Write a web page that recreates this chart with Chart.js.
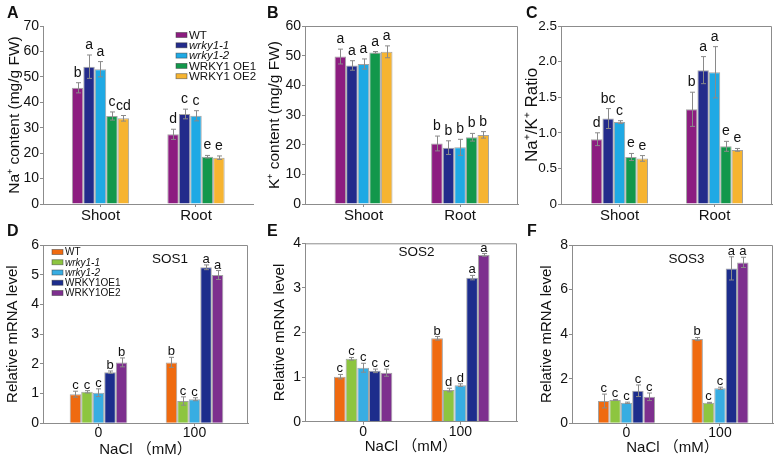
<!DOCTYPE html>
<html>
<head>
<meta charset="utf-8">
<script src="https://cdn.jsdelivr.net/npm/chart.js@4/dist/chart.umd.min.js"></script>
<style>
body { margin: 0; background: #fff; width: 777px; height: 464px; overflow: hidden; position: relative; font-family: 'Liberation Sans', Arial, sans-serif; }
.panel { position: absolute; }
.tag { position: absolute; font-weight: bold; font-size: 16px; line-height: 16px; color: #111; }
</style>
</head>
<body>
<div class="panel" style="left:0;top:0;width:260px;height:230px"><canvas id="chartA"></canvas></div>
<div class="panel" style="left:260px;top:0;width:260px;height:230px"><canvas id="chartB"></canvas></div>
<div class="panel" style="left:520px;top:0;width:257px;height:230px"><canvas id="chartC"></canvas></div>
<div class="panel" style="left:0;top:230px;width:260px;height:234px"><canvas id="chartD"></canvas></div>
<div class="panel" style="left:260px;top:230px;width:260px;height:234px"><canvas id="chartE"></canvas></div>
<div class="panel" style="left:520px;top:230px;width:257px;height:234px"><canvas id="chartF"></canvas></div>
<div class="tag" style="left:7px;top:5px">A</div>
<div class="tag" style="left:267px;top:5px">B</div>
<div class="tag" style="left:526px;top:5px">C</div>
<div class="tag" style="left:7px;top:223px">D</div>
<div class="tag" style="left:267px;top:223px">E</div>
<div class="tag" style="left:527px;top:223px">F</div>
<script>
// categories
const tissues = ['Shoot', 'Root'];
const saltLevels = ['0', '100'];
const linesIon = ['WT', 'wrky1-1', 'wrky1-2', 'WRKY1 OE1', 'WRKY1 OE2'];
const linesGene = ['WT', 'wrky1-1', 'wrky1-2', 'WRKY1OE1', 'WRKY1OE2'];
const colorsIon = ['#8c1d80', '#232b8b', '#1fa9e4', '#12974b', '#f6b431'];
const colorsGene = ['#ef6a10', '#8dc540', '#38ade2', '#1d2d8c', '#7d2f8e'];

// each row = one genotype: [Shoot, Root]
const naVal = [[45.7, 27.4], [54.0, 35.4], [53.0, 34.7], [34.6, 18.6], [33.7, 18.2]];
const naErr = [[2.0, 2.0], [4.6, 1.9], [3.0, 2.0], [1.6, 0.5], [1.1, 0.7]];
const naLet = [['b', 'd'], ['a', 'c'], ['a', 'c'], ['c', 'e'], ['cd', 'e']];

const kVal = [[49.7, 20.4], [46.7, 19.0], [47.2, 19.1], [51.1, 22.5], [51.3, 23.3]];
const kErr = [[2.5, 2.5], [1.6, 2.3], [1.7, 2.7], [0.3, 1.3], [2.0, 1.1]];
const kLet = [['a', 'b'], ['a', 'b'], ['a', 'b'], ['a', 'b'], ['a', 'b']];

const ratioVal = [[0.91, 1.33], [1.20, 1.88], [1.15, 1.85], [0.66, 0.81], [0.64, 0.76]];
const ratioErr = [[0.09, 0.24], [0.14, 0.19], [0.02, 0.36], [0.05, 0.07], [0.04, 0.02]];
const ratioLet = [['d', 'b'], ['bc', 'a'], ['c', 'a'], ['e', 'e'], ['e', 'e']];

// each row = one genotype: [0 mM, 100 mM]
const sos1Val = [[0.98, 2.05], [1.06, 0.75], [1.03, 0.81], [1.72, 5.25], [2.05, 4.99]];
const sos1Err = [[0.1, 0.17], [0.04, 0.14], [0.13, 0.05], [0.04, 0.08], [0.15, 0.15]];
const sos1Let = [['c', 'b'], ['c', 'c'], ['c', 'c'], ['b', 'a'], ['b', 'a']];

const sos2Val = [[1.01, 1.87], [1.41, 0.71], [1.21, 0.82], [1.14, 3.23], [1.10, 3.74]];
const sos2Err = [[0.05, 0.04], [0.03, 0.04], [0.1, 0.03], [0.04, 0.05], [0.08, 0.03]];
const sos2Let = [['c', 'b'], ['c', 'd'], ['c', 'd'], ['c', 'a'], ['c', 'a']];

const sos3Val = [[1.0, 3.78], [1.05, 0.92], [0.92, 1.57], [1.46, 6.95], [1.19, 7.22]];
const sos3Err = [[0.31, 0.07], [0.02, 0.02], [0.03, 0.05], [0.26, 0.52], [0.17, 0.23]];
const sos3Let = [['c', 'b'], ['c', 'c'], ['c', 'c'], ['c', 'a'], ['c', 'a']];

const axisGray = '#8c8c8c';
const inkColor = '#111';
Chart.defaults.font.family = "'Liberation Sans', Arial, 'Noto Sans CJK SC', sans-serif";
Chart.defaults.color = inkColor;

// error bars, letters, legend, gene name and box frame
const panelExtras = {
    id: 'panelExtras',
    afterDatasetsDraw(chart, args, opts) {
        const ctx = chart.ctx;
        const a = chart.chartArea;
        const y = chart.scales.y;
        ctx.save();
        if (opts.box) {
            ctx.strokeStyle = axisGray;
            ctx.lineWidth = 1;
            ctx.beginPath();
            ctx.moveTo(a.left, a.top + 0.5);
            ctx.lineTo(a.right - 0.5, a.top + 0.5);
            ctx.lineTo(a.right - 0.5, a.bottom);
            ctx.stroke();
        }
        chart.data.datasets.forEach((ds, i) => {
            const meta = chart.getDatasetMeta(i);
            meta.data.forEach((bar, j) => {
                const v = ds.data[j].y;
                const e = ds.errors[j];
                const top = y.getPixelForValue(v + e);
                const bot = y.getPixelForValue(v - e);
                const x = Math.round(bar.x) + 0.5;
                ctx.strokeStyle = '#8a8a8a';
                ctx.lineWidth = 1;
                ctx.beginPath();
                ctx.moveTo(x, top);
                ctx.lineTo(x, bot);
                ctx.moveTo(x - 2.5, top);
                ctx.lineTo(x + 2.5, top);
                ctx.moveTo(x - 2.5, bot);
                ctx.lineTo(x + 2.5, bot);
                ctx.stroke();
                ctx.fillStyle = inkColor;
                ctx.font = opts.letterFont;
                ctx.textAlign = 'center';
                ctx.textBaseline = 'alphabetic';
                ctx.fillText(ds.letters[j], bar.x, top - opts.letterGap);
            });
        });
        if (opts.legend) {
            const L = opts.legend;
            chart.data.datasets.forEach((ds, i) => {
                const cy = L.y + i * L.row;
                ctx.fillStyle = ds.backgroundColor;
                ctx.fillRect(L.x, cy - 2.5, 11, 5);
                ctx.strokeStyle = 'rgba(60,60,60,0.6)';
                ctx.lineWidth = 0.8;
                ctx.strokeRect(L.x, cy - 2.5, 11, 5);
                ctx.fillStyle = inkColor;
                const italic = ds.label.startsWith('wrky') ? 'italic ' : '';
                ctx.font = italic + L.size + "px 'Liberation Sans', Arial, sans-serif";
                ctx.textAlign = 'left';
                ctx.textBaseline = 'middle';
                ctx.fillText(ds.label, L.x + 13, cy + 0.5);
            });
        }
        if (opts.gene) {
            ctx.fillStyle = inkColor;
            ctx.font = "13.5px 'Liberation Sans', Arial, sans-serif";
            ctx.textAlign = 'center';
            ctx.textBaseline = 'middle';
            ctx.fillText(opts.gene.text, opts.gene.x, opts.gene.y);
        }
        ctx.restore();
    }
};

function makeChart(id, cfg) {
    const ctx = document.getElementById(id).getContext('2d');
    const myChart = new Chart(ctx, {
        type: 'bar',
        data: {
            datasets: cfg.names.map((name, i) => ({
                label: name,
                data: cfg.values[i].map((v, j) => ({x: j, y: v})),
                errors: cfg.errors[i],
                letters: cfg.letters[i],
                backgroundColor: cfg.colors[i],
                borderColor: 'rgba(50,50,50,0.45)',
                borderWidth: 1,
                categoryPercentage: cfg.groupWidth,
                barPercentage: 1
            }))
        },
        options: {
            responsive: true,
            maintainAspectRatio: false,
            animation: false,
            layout: {
                padding: cfg.pad
            },
            plugins: {
                legend: {display: false},
                tooltip: {enabled: false},
                panelExtras: cfg.extras
            },
            scales: {
                x: {
                    type: 'linear',
                    min: cfg.xmin,
                    max: cfg.xmax,
                    offset: false,
                    afterBuildTicks: s => { s.ticks = [{value: 0}, {value: 1}]; },
                    afterFit: s => { s.height = cfg.xh; },
                    grid: {drawOnChartArea: false, tickLength: 3, color: axisGray, offset: false},
                    border: {color: axisGray},
                    ticks: {
                        callback: v => cfg.cats[v],
                        font: {size: cfg.xTickSize, lineHeight: 1},
                        padding: cfg.xTickPad,
                        maxRotation: 0
                    },
                    title: {
                        display: !!cfg.xTitle,
                        text: cfg.xTitle || '',
                        font: {size: 15},
                        padding: {top: 0, bottom: cfg.xTitlePad || 0}
                    }
                },
                y: {
                    min: 0,
                    max: cfg.ymax,
                    afterFit: s => { s.width = cfg.yw; },
                    grid: {drawOnChartArea: false, tickLength: 3, color: axisGray},
                    border: {color: axisGray},
                    ticks: {stepSize: cfg.step, font: {size: cfg.yTickSize || 14}, padding: 1},
                    title: {
                        display: true,
                        text: cfg.yTitle,
                        font: {size: cfg.yTitleSize},
                        padding: {top: cfg.yTitlePad, bottom: 0}
                    }
                }
            }
        },
        plugins: [panelExtras]
    });
    return myChart;
}

const topLetters = {letterFont: "14px 'Liberation Sans', Arial, sans-serif", letterGap: 6};
const geneLetters = {letterFont: "13px 'Liberation Sans', Arial, sans-serif", letterGap: 2};

makeChart('chartA', {
    names: linesIon, colors: colorsIon, values: naVal, errors: naErr, letters: naLet,
    cats: tissues, xmin: -0.602, xmax: 1.597, groupWidth: 0.6,
    pad: {top: 26, right: 7, left: 0, bottom: 0}, xh: 26, yw: 43,
    xTickSize: 15, xTickPad: 1.5,
    ymax: 70, step: 10, yTitle: 'Na⁺ content (mg/g FW)', yTitleSize: 15.5, yTitlePad: 5,
    extras: Object.assign({box: false, legend: {x: 176, y: 35, row: 10.3, size: 11.5}}, topLetters)
});

makeChart('chartB', {
    names: linesIon, colors: colorsIon, values: kVal, errors: kErr, letters: kLet,
    cats: tissues, xmin: -0.606, xmax: 1.6, groupWidth: 0.6,
    pad: {top: 26, right: 2, left: 0, bottom: 0}, xh: 26, yw: 45,
    xTickSize: 15, xTickPad: 1.5,
    ymax: 60, step: 10, yTitle: 'K⁺ content (mg/g FW)', yTitleSize: 15.5, yTitlePad: 5,
    extras: Object.assign({box: true}, topLetters)
});

makeChart('chartC', {
    names: linesIon, colors: colorsIon, values: ratioVal, errors: ratioErr, letters: ratioLet,
    cats: tissues, xmin: -0.616, xmax: 1.605, groupWidth: 0.6,
    pad: {top: 26, right: 5, left: 0, bottom: 0}, xh: 26, yw: 41,
    xTickSize: 15, xTickPad: 1.5, yTickSize: 13.5,
    ymax: 2.5, step: 0.5, yTitle: 'Na⁺/K⁺ Ratio', yTitleSize: 17, yTitlePad: 2.5,
    extras: Object.assign({box: true}, topLetters)
});

makeChart('chartD', {
    names: linesGene, colors: colorsGene, values: sos1Val, errors: sos1Err, letters: sos1Let,
    cats: saltLevels, xmin: -0.578, xmax: 1.557, groupWidth: 0.6,
    pad: {top: 15, right: 12, left: 0, bottom: 0}, xh: 40.7, yw: 43,
    xTickSize: 14, xTickPad: 0, xTitle: 'NaCl （mM）', xTitlePad: 5,
    ymax: 6, step: 1, yTitle: 'Relative mRNA level', yTitleSize: 15, yTitlePad: 3.5,
    extras: Object.assign({box: true, legend: {x: 52, y: 22, row: 10.25, size: 10}, gene: {text: 'SOS1', x: 170, y: 29}}, geneLetters)
});

makeChart('chartE', {
    names: linesGene, colors: colorsGene, values: sos2Val, errors: sos2Err, letters: sos2Let,
    cats: saltLevels, xmin: -0.598, xmax: 1.582, groupWidth: 0.6,
    pad: {top: 13.3, right: 3, left: 0, bottom: 0}, xh: 42.3, yw: 45,
    xTickSize: 14, xTickPad: 0, xTitle: 'NaCl （mM）', xTitlePad: 8,
    ymax: 4, step: 1, yTitle: 'Relative mRNA level', yTitleSize: 15, yTitlePad: 11,
    extras: Object.assign({box: true, gene: {text: 'SOS2', x: 156.5, y: 22}}, geneLetters)
});

makeChart('chartF', {
    names: linesGene, colors: colorsGene, values: sos3Val, errors: sos3Err, letters: sos3Let,
    cats: saltLevels, xmin: -0.583, xmax: 1.567, groupWidth: 0.61,
    pad: {top: 15, right: 4, left: 0, bottom: 0}, xh: 40.7, yw: 52,
    xTickSize: 14, xTickPad: 0, xTitle: 'NaCl （mM）', xTitlePad: 7,
    ymax: 8, step: 2, yTitle: 'Relative mRNA level', yTitleSize: 15, yTitlePad: 17.5,
    extras: Object.assign({box: true, gene: {text: 'SOS3', x: 166.5, y: 29}}, geneLetters)
});
</script>
</body>
</html>
